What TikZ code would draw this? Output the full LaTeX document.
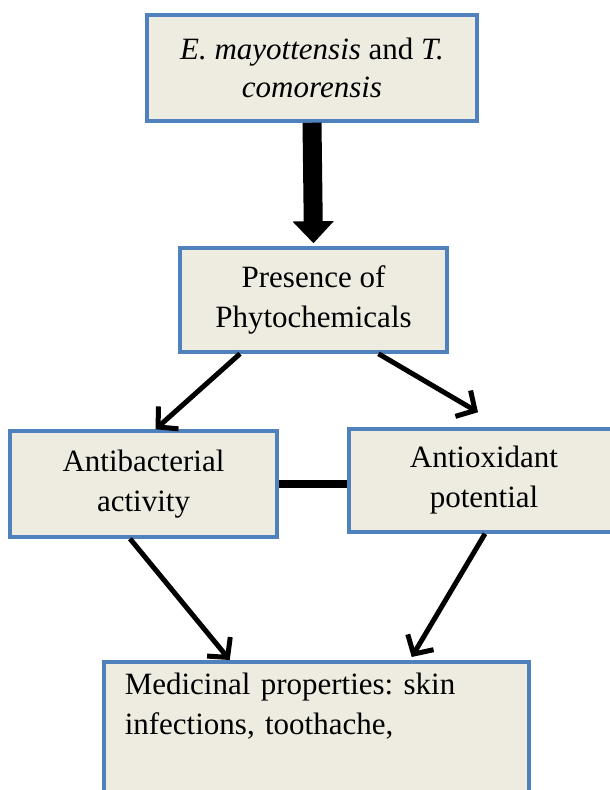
\documentclass[tikz,border=0pt]{standalone}
\usepackage{fontspec}
\setmainfont{Liberation Serif}
\usepackage{tikz}
\usetikzlibrary{arrows.meta,positioning,calc}
\definecolor{boxFill}{RGB}{238,236,225}
\definecolor{boxEdge}{RGB}{79,129,189}
\newcommand\boxfont{\fontsize{31}{40}\selectfont\frenchspacing}

\begin{document}
\begin{tikzpicture}[x=1pt,y=-1pt,font=\boxfont,
  box/.style={draw=boxEdge,fill=boxFill,line width=3.5pt,align=center,inner sep=0pt},
  thinarrow/.style={line width=5pt,-{Straight Barb[length=14pt,width=30pt]}}]
  % page
  \useasboundingbox (0,0) rectangle (610,790);
  \fill[white] (0,0) rectangle (610,790);
  % boxes
  \node[box,minimum width=330pt,minimum height=106pt] (source) at (312,68)
    {\textit{E. mayottensis} and \textit{T.}\\[-2pt]\textit{comorensis}};
  \node[box,minimum width=267pt,minimum height=104pt] (phyto) at (313.5,300)
    {Presence of\\Phytochemicals};
  \node[box,minimum width=267pt,minimum height=106pt] (antibac) at (143.5,484)
    {Antibacterial\\activity};
  \node[box,minimum width=270pt,minimum height=103pt] (antiox) at (484,480.5)
    {Antioxidant\\potential};
  \node[box,anchor=north west,align=left,text width=383pt,inner xsep=21pt,inner ysep=11.5pt] (medic) at (102,660)
    {Medicinal properties: skin\\infections, toothache,\\\strut};
  % connectors
  \draw[line width=19pt,-{Triangle[width=40pt,length=22pt]}] (source.south) -- ([yshift=3pt]phyto.north);
  \draw[thinarrow] ([xshift=-73.5pt]phyto.south) -- ([xshift=12pt]antibac.north);
  \draw[thinarrow] ([xshift=65pt]phyto.south) -- ([xshift=-6pt,yshift=15pt]antiox.north);
  \draw[line width=8pt] (antibac.east) -- (antibac.east -| antiox.west);
  \draw[thinarrow] ([xshift=-13.5pt]antibac.south) -- ([xshift=-86.5pt]medic.north);
  \draw[thinarrow] ([xshift=1pt]antiox.south) -- ([xshift=95.5pt,yshift=3pt]medic.north);
\end{tikzpicture}
\end{document}
